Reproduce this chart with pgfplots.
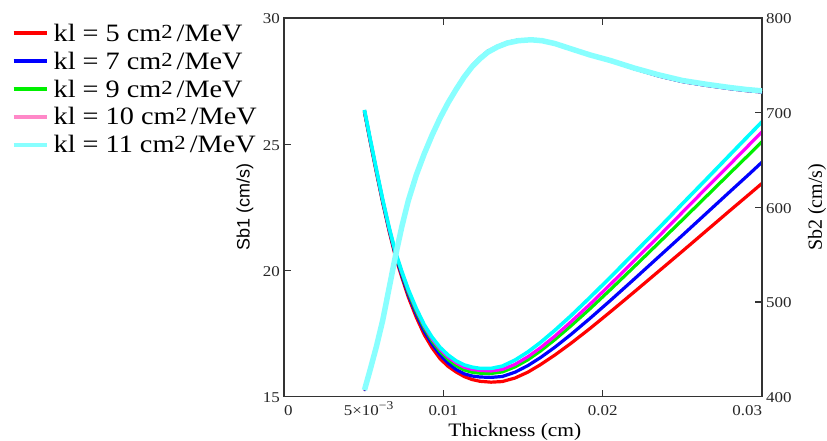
\documentclass[border=0pt]{standalone}
\usepackage{fontspec}
\setmainfont[FakeStretch=1.13]{Liberation Serif}
\newfontfamily\plainserif{Liberation Serif}
\newfontfamily\sbsans{Liberation Sans}
\usepackage{pgfplots}
\pgfplotsset{compat=1.18}
\usepackage{pgfplotstable}

\definecolor{lpink}{HTML}{FF88C8}
\definecolor{lcyan}{HTML}{88FFFF}
\definecolor{ured}{HTML}{FF0000}
\definecolor{ublue}{HTML}{0000FF}
\definecolor{ugreen}{HTML}{00F000}
\definecolor{umag}{HTML}{FF00FF}
\definecolor{ucyan}{HTML}{00FFFF}

\newcommand{\sq}{\raisebox{3pt}{\fontsize{20}{20}\selectfont 2}\hspace{4pt}}

% Sb1 curves (U shaped), one column per kl
\pgfplotstableread{
x red blue green pink cyan
0.00505 26.28 26.30 26.32 26.34 26.36
0.0054 25.14 25.17 25.20 25.23 25.25
0.0058 23.88 23.92 23.95 23.98 24.00
0.0062 22.67 22.71 22.75 22.78 22.80
0.0066 21.55 21.60 21.65 21.68 21.70
0.0070 20.53 20.60 20.66 20.70 20.72
0.0074 19.72 19.80 19.88 19.93 19.95
0.0078 18.95 19.05 19.13 19.20 19.25
0.0083 18.15 18.27 18.37 18.45 18.50
0.0088 17.46 17.60 17.72 17.80 17.85
0.0093 16.93 17.08 17.20 17.28 17.35
0.0098 16.50 16.66 16.79 16.88 16.95
0.0103 16.20 16.33 16.47 16.57 16.65
0.0108 15.98 16.08 16.23 16.34 16.42
0.0113 15.80 15.91 16.06 16.17 16.26
0.0118 15.68 15.82 15.97 16.08 16.17
0.0123 15.61 15.78 15.93 16.04 16.12
0.0130 15.575 15.765 15.92 16.02 16.12
0.0137 15.60 15.80 15.98 16.08 16.21
0.0145 15.74 15.97 16.18 16.28 16.45
0.0153 15.97 16.23 16.46 16.58 16.77
0.0161 16.27 16.55 16.81 16.94 17.15
0.0170 16.65 16.96 17.26 17.40 17.63
0.0180 17.11 17.46 17.80 17.96 18.20
0.0192 17.70 18.10 18.48 18.66 18.93
0.0205 18.37 18.82 19.25 19.46 19.74
0.0220 19.16 19.67 20.16 20.40 20.70
0.0235 19.96 20.53 21.08 21.34 21.66
0.0250 20.76 21.39 22.00 22.30 22.64
0.0265 21.57 22.26 22.93 23.26 23.61
0.0280 22.38 23.13 23.86 24.21 24.59
0.0292 23.02 23.82 24.60 24.98 25.37
0.0300 23.45 24.29 25.10 25.49 25.89
}\Utable

% Sb2 curves (hump), nearly coincident for all kl
\pgfplotstableread{
x rb c
0.00505 406 407
0.0054 429.5 428
0.0058 455 453
0.0062 484 481
0.0066 518 515
0.0070 552 549
0.0074 583 580
0.0078 609.5 607
0.0083 636.5 634
0.0088 659 656.5
0.0093 679 676.5
0.0098 696.5 694.5
0.0103 712.5 710.5
0.0108 726.5 724.5
0.0113 739.5 737.5
0.0118 750.5 748.5
0.0123 759 757
0.0128 766 764
0.0134 771 769.5
0.0140 775 773.5
0.0147 777.5 776
0.0155 778 777
0.0162 776.5 776
0.0170 773.5 773
0.0180 767.5 767.5
0.0192 760.5 761
0.0205 754 755
0.0220 745.5 747
0.0235 738 740
0.0250 732 734
0.0265 728 730
0.0280 724.5 726.5
0.0290 722.5 724.5
0.0300 721 723
}\Htable

\pgfplotsset{
  common/.style={
    scale only axis, width=478pt, height=378.7pt,
    at={(284pt,44.3pt)}, anchor=south west,
    xmin=0, xmax=0.03,
    scaled x ticks=false, scaled y ticks=false,
    axis line style={black!80, line width=1.1pt},
    major tick style={black!80, line width=1.1pt},
    major tick length=7pt, tick align=inside,
    ticklabel style={font=\fontsize{15}{15}\selectfont, text=black!85, inner sep=0pt},
  }
}

\begin{document}
\begin{tikzpicture}
\path[use as bounding box] (0pt,0pt) rectangle (827pt,441pt);

\begin{axis}[common, ymin=15, ymax=30,
  xtick={0,0.01,0.02,0.03},
  xticklabels={\rlap{0},0.01,0.02,\llap{0.03}},
  extra x ticks={0.005},
  extra x tick labels={5×10\raisebox{6pt}{\fontsize{12}{12}\selectfont −3}},
  extra x tick style={major tick length=0pt, xticklabel style={xshift=5pt}},
  xticklabel style={anchor=base, yshift=-19.3pt},
  ytick={15,20,25,30}, yticklabels={15,20,25,30}, ytick pos=left,
  yticklabel style={anchor=east, xshift=-4pt, yshift=-1pt},
  xlabel={Thickness (cm)},
  xlabel style={font=\fontsize{19}{19}\selectfont, at={(axis description cs:0.483,0)}, anchor=base, yshift=-40pt},
  ylabel={Sb1 (cm/s)},
  ylabel style={font=\sbsans\fontsize{18}{18}\selectfont, at={(axis description cs:-0.0816,0.5)}, anchor=center},
  legend image code/.code={\draw[#1] (0pt,0pt) -- (33pt,0pt);},
  legend cell align=left,
  legend style={at={(axis description cs:-0.5697,0.984)}, anchor=north west,
    draw=none, fill=none, inner sep=0pt, outer sep=0pt,
    row sep=9pt, column sep=5pt,
    font=\fontsize{25}{27}\selectfont, nodes={inner sep=0pt}},
]
\addplot[ured, line width=3.2pt, forget plot] table[x=x, y=red] {\Utable};
\addplot[ublue, line width=3.2pt, forget plot] table[x=x, y=blue] {\Utable};
\addplot[ugreen, line width=3.2pt, forget plot] table[x=x, y=green] {\Utable};
\addplot[umag, line width=3.2pt, forget plot] table[x=x, y=pink] {\Utable};
\addplot[ucyan, line width=3.6pt, forget plot] table[x=x, y=cyan] {\Utable};

\addlegendimage{ured, line width=4pt}
\addlegendentry{kl = 5 cm\sq/MeV}
\addlegendimage{ublue, line width=4pt}
\addlegendentry{kl = 7 cm\sq/MeV}
\addlegendimage{ugreen, line width=4pt}
\addlegendentry{kl = 9 cm\sq/MeV}
\addlegendimage{lpink, line width=4pt}
\addlegendentry{kl = 10 cm\sq/MeV}
\addlegendimage{lcyan, line width=4pt}
\addlegendentry{kl = 11 cm\sq/MeV}
\end{axis}

\begin{axis}[common, ymin=400, ymax=800,
  axis x line=none, axis y line*=right,
  xtick=\empty,
  ytick={400,500,600,700,800}, yticklabels={400,500,600,700,800},
  yticklabel style={anchor=west, xshift=4pt, yshift=-1pt},
  ylabel={Sb2 (cm/s)},
  ylabel style={font=\plainserif\fontsize{20}{20}\selectfont, at={(axis description cs:1.115,0.5)}, anchor=center},
]
\addplot[ured, line width=1.6pt] table[x=x, y=rb] {\Htable};
\addplot[ublue, line width=1.6pt] table[x=x, y=rb] {\Htable};
\addplot[ugreen, line width=1.6pt] table[x=x, y=c] {\Htable};
\addplot[lpink, line width=1.6pt] table[x=x, y=c] {\Htable};
\addplot[lcyan, line width=5.5pt] table[x=x, y=c] {\Htable};
\end{axis}
\end{tikzpicture}
\end{document}
